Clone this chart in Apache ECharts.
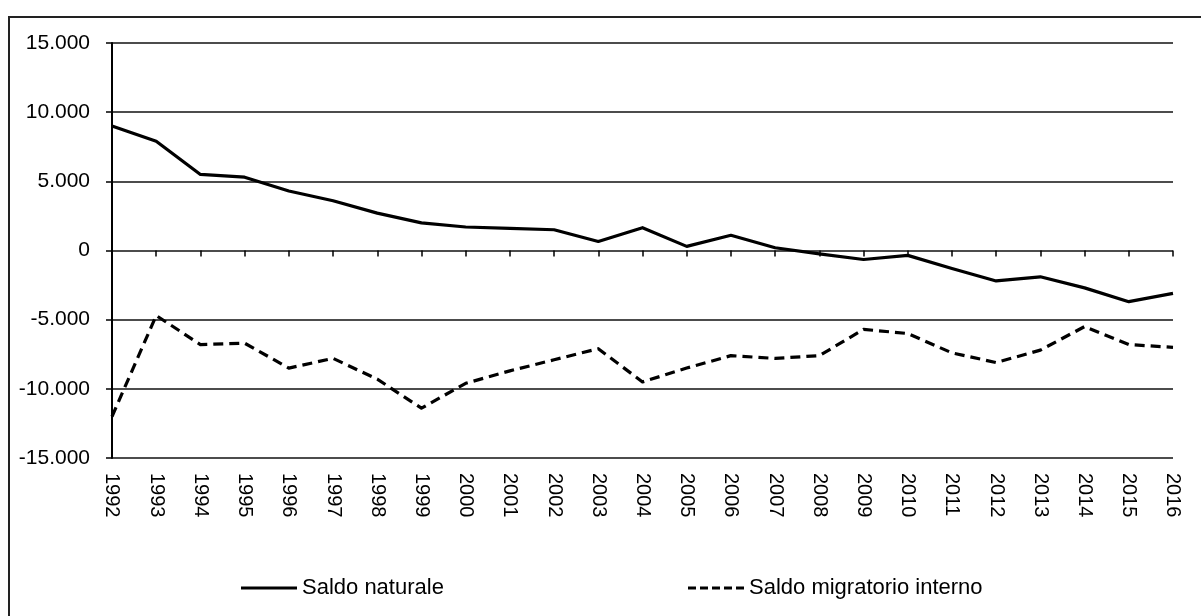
<!DOCTYPE html>
<html>
<head>
<meta charset="utf-8">
<script src="https://cdn.jsdelivr.net/npm/echarts@6/dist/echarts.min.js"></script>
<style>
  html, body { margin: 0; padding: 0; background: #fff; }
  #chart { width: 1201px; height: 616px; }
</style>
</head>
<body>
<div id="chart"></div>
<script>
// anni
const years = ['1992', '1993', '1994', '1995', '1996', '1997', '1998', '1999', '2000', '2001',
  '2002', '2003', '2004', '2005', '2006', '2007', '2008', '2009', '2010', '2011',
  '2012', '2013', '2014', '2015', '2016']

// valori
const saldoNaturale = [9000, 7900, 5500, 5300, 4300, 3600, 2700, 2000, 1700, 1600,
  1500, 650, 1650, 300, 1100, 200, -250, -650, -350, -1300,
  -2200, -1900, -2700, -3700, -3100]
const saldoMigratorio = [-12000, -4700, -6800, -6700, -8500, -7800, -9300, -11400, -9600, -8700,
  -7900, -7100, -9500, -8500, -7600, -7800, -7600, -5700, -6000, -7400,
  -8100, -7200, -5500, -6800, -7000]

const seriesNames = ['Saldo naturale', 'Saldo migratorio interno']

const font = '"Liberation Sans", Arial, sans-serif'

// icone legenda: linea piena e tratteggiata
const iconSolid = 'path://M0,0H56V3H0Z'
const iconDashed = 'path://M0,0H8V3H0Z M12,0H20V3H12Z M24,0H32V3H24Z M36,0H44V3H36Z M48,0H56V3H48Z'

// 15000 -> 15.000
const fmt = (v) => {
  const s = String(Math.abs(v)).replace(/\B(?=(\d{3})+(?!\d))/g, '.')
  return (v < 0 ? '-' : '') + s
}

const chart = echarts.init(document.getElementById('chart'))

const legendBase = {
  top: 572,
  itemWidth: 56,
  itemHeight: 3,
  itemGap: 6,
  textStyle: { fontFamily: font, fontSize: 22, color: '#000' }
}

const option = {
  backgroundColor: '#fff',
  animation: false,
  grid: {
    left: 112,
    right: 28,
    top: 43,
    bottom: 158
  },
  legend: [
    Object.assign({}, legendBase, { data: [{ name: seriesNames[0], icon: iconSolid }], left: 236 }),
    Object.assign({}, legendBase, { data: [{ name: seriesNames[1], icon: iconDashed }], left: 683 })
  ],
  xAxis: {
    type: 'category',
    data: years,
    boundaryGap: false,
    axisLine: { show: false },
    axisTick: {
      show: true,
      alignWithLabel: true,
      length: 6,
      lineStyle: { color: '#000', width: 1.5 }
    },
    axisLabel: {
      rotate: -90,
      interval: 0,
      margin: 15,
      fontFamily: font,
      fontSize: 20,
      color: '#000'
    },
    splitLine: { show: false }
  },
  yAxis: {
    type: 'value',
    min: -15000,
    max: 15000,
    interval: 5000,
    axisLine: { show: true, lineStyle: { color: '#000', width: 2 } },
    axisTick: { show: true, length: 6, lineStyle: { color: '#000', width: 1.5 } },
    axisLabel: {
      margin: 22,
      fontFamily: font,
      fontSize: 21,
      color: '#000',
      formatter: fmt
    },
    splitLine: { show: true, lineStyle: { color: '#111', width: 1.6 } }
  },
  series: [
    {
      name: seriesNames[0],
      type: 'line',
      data: saldoNaturale,
      symbol: 'none',
      lineStyle: { color: '#000', width: 3.2, type: 'solid', join: 'round' },
      itemStyle: { color: '#000' }
    },
    {
      name: seriesNames[1],
      type: 'line',
      data: saldoMigratorio,
      symbol: 'none',
      lineStyle: { color: '#000', width: 3.2, type: [10, 6], join: 'round' },
      itemStyle: { color: '#000' }
    }
  ],
  graphic: [
    {
      type: 'polyline',
      shape: { points: [[9, 616], [9, 17], [1201, 17]] },
      style: { stroke: '#222', lineWidth: 2, fill: null }
    }
  ]
}

chart.setOption(option)
</script>
</body>
</html>
